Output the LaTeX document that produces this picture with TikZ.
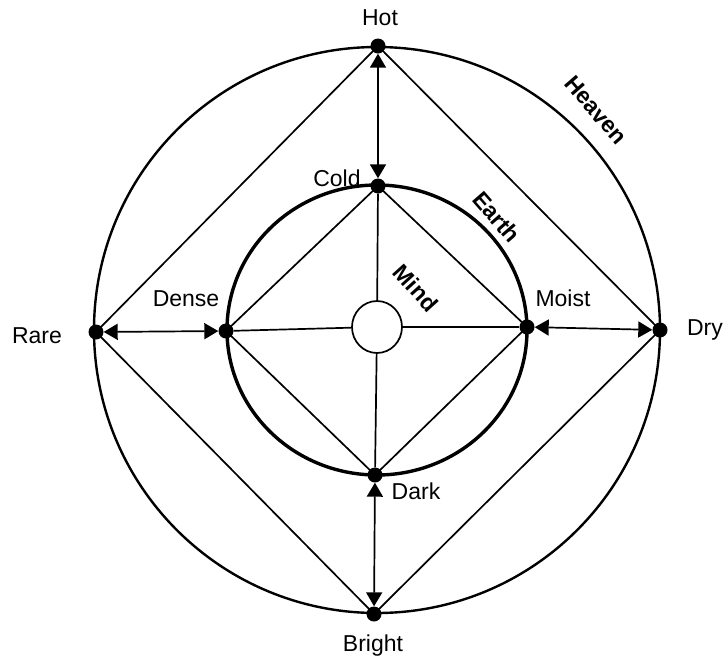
\documentclass[tikz,border=0pt]{standalone}
\usepackage{fontspec}
\setmainfont{Liberation Sans}
\usetikzlibrary{arrows.meta,shapes.geometric}
\begin{document}
\begin{tikzpicture}[x=1pt,y=-1pt,
  dot/.style={circle,fill=black,inner sep=0pt,minimum size=15pt},
  lbl/.style={font=\fontsize{23}{25}\selectfont,inner sep=0pt},
  blbl/.style={font=\fontsize{23}{25}\selectfont\bfseries,inner sep=0pt},
  ln/.style={line width=1.7pt},
  dbl/.style={line width=1.7pt,{Triangle[width=16pt,length=14pt]}-{Triangle[width=16pt,length=14pt]}}
]
\useasboundingbox (0,0) rectangle (726,662);
\draw[line width=2.4pt] (377,330) circle [radius=283];
\draw[line width=3.4pt] (377,330) ellipse [x radius=150, y radius=145];
\node[draw,ellipse,line width=1.7pt,minimum width=50pt,minimum height=52pt,inner sep=0pt] (mind) at (377,327) {};

\node[dot] (hot) at (378,46) {};
\node[dot] (cold) at (378,186) {};
\node[dot] (dense) at (226,331) {};
\node[dot] (rare) at (96,332) {};
\node[dot] (moist) at (527,327) {};
\node[dot] (dry) at (660,330) {};
\node[dot] (dark) at (375,475) {};
\node[dot] (bright) at (374,614) {};

\draw[ln] (hot.center) -- (dry.center) -- (bright.center) -- (rare.center) -- cycle;
\draw[ln] (cold.center) -- (moist.center) -- (dark.center) -- (dense.center) -- cycle;
\draw[ln] (cold) -- (mind);
\draw[ln] (dark) -- (mind);
\draw[ln] (dense) -- (mind);
\draw[ln] (moist) -- (mind);

\draw[dbl] (hot) -- (cold);
\draw[dbl] (rare) -- (dense);
\draw[dbl] (moist) -- (dry);
\draw[dbl] (dark) -- (bright);

\node[lbl] (thot) at (380,18) {Hot};
\node[lbl] (tcold) at (337,178) {Cold};
\node[lbl] (tdense) at (186,299) {Dense};
\node[lbl] (trare) at (37,336) {Rare};
\node[lbl] (tmoist) at (563,298) {Moist};
\node[lbl] (tdry) at (705,330) {Dry};
\node[lbl] (tdark) at (416,491) {Dark};
\node[lbl] (tbright) at (373,646) {Bright};

\node[blbl,rotate=-49] (theaven) at (596,110) {Heaven};
\node[blbl,rotate=-49] (tearth) at (497,217) {Earth};
\node[blbl,rotate=-48] (tmind) at (416,288) {Mind};
\end{tikzpicture}
\end{document}
